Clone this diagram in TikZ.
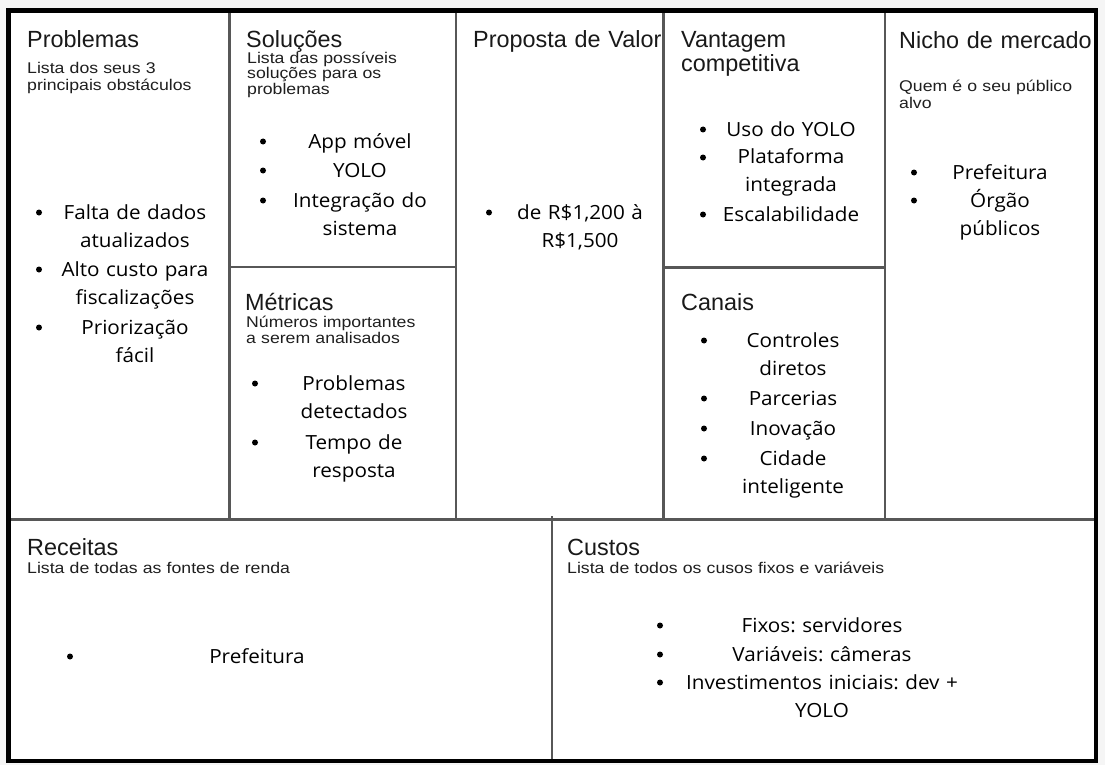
\documentclass[tikz,border=0pt]{standalone}
\usepackage{fontspec}
\setmainfont[FakeStretch=1.06]{Open Sans}
\newfontfamily\headfont{Liberation Sans}
\newfontfamily\notefont[FakeStretch=1.14]{Liberation Sans}
\usetikzlibrary{positioning}
\frenchspacing

\tikzset{
  frame/.style={line width=4.5pt, black},
  divider/.style={line width=2.2pt, black!66},
  heading/.style={anchor=base west, inner sep=0pt, text=black!90, align=left, text width=215pt,
    font=\headfont\fontsize{23.4}{24}\selectfont},
  hint/.style={anchor=base west, inner sep=0pt, text=black!88, align=left, text width=360pt,
    font=\notefont\fontsize{15.5}{16.5}\selectfont},
  entry/.style={anchor=base, inner sep=0pt, align=center, text width=170pt,
    font=\fontsize{19.5}{28}\selectfont},
  dot/.style={circle, fill=black, inner sep=0pt, minimum size=6pt, yshift=6.5pt}
}

\begin{document}
\begin{tikzpicture}[x=1pt, y=-1pt]
\useasboundingbox (0,0) rectangle (1105,765);
\fill[black!4] (0,0) rectangle (1105,765);
\fill[white] (8.5,10.5) rectangle (1096,761);

% Grid of the canvas
\draw[divider] (8.5,519.5) -- (1096,519.5);
\foreach \x in {229.5, 456, 663.5, 885} {
    \draw[divider] (\x,10.5) -- (\x,519.5);
}
\draw[divider] (229.5,267) -- (456,267);
\draw[divider] (663.5,267.5) -- (885,267.5);
\draw[divider] (552,516) -- (552,761);
\draw[frame] (8.5,10.5) rectangle (1096,761);

% Headings and hints
\node[heading] (probHead) at (27,48) {Problemas};
\node[hint] (probHint) at (27,74) {Lista dos seus 3\\principais obstáculos};
\node[heading] (soluHead) at (246,48) {Soluções};
\node[hint, font=\notefont\fontsize{15.5}{14.5}\selectfont] (soluHint) at (247,64) {Lista das possíveis\\soluções para os\\problemas};
\node[heading] (metrHead) at (245,310) {Métricas};
\node[hint] (metrHint) at (246,327) {Números importantes\\a serem analisados};
\node[heading] (propHead) at (473,48) {Proposta de Valor};
\node[heading] (vantHead) at (681,48) {Vantagem\\competitiva};
\node[heading] (canaHead) at (681,310) {Canais};
\node[heading] (nichHead) at (899,49) {Nicho de mercado};
\node[hint] (nichHint) at (899,92) {Quem é o seu público\\alvo};
\node[heading] (receHead) at (27,555) {Receitas};
\node[hint] (receHint) at (27,573) {Lista de todas as fontes de renda};
\node[heading] (custHead) at (567,555) {Custos};
\node[hint] (custHint) at (567,573) {Lista de todos os cusos fixos e variáveis};

% Bullet lists
\foreach \yb/\txt [count=\k] in {219/{Falta de dados\\atualizados}, 276/{Alto custo para\\fiscalizações}, 334/{Priorização\\fácil}} {
    \node[dot] (probDot\k) at (39,\yb) {};
    \node[entry, text width=160pt] (probItem\k) at (135,\yb) {\txt};
}
\foreach \yb/\txt [count=\k] in {148/{App móvel}, 177/{YOLO}, 207/{Integração do\\sistema}} {
    \node[dot] (soluDot\k) at (263,\yb) {};
    \node[entry, text width=160pt] (soluItem\k) at (360,\yb) {\txt};
}
\foreach \yb/\txt [count=\k] in {390/{Problemas\\detectados}, 449/{Tempo de\\resposta}} {
    \node[dot] (metrDot\k) at (255,\yb) {};
    \node[entry, text width=160pt] (metrItem\k) at (354,\yb) {\txt};
}
\foreach \yb/\txt [count=\k] in {219/{de R\$1,200 à\\R\$1,500}} {
    \node[dot] (propDot\k) at (489,\yb) {};
    \node[entry, text width=160pt] (propItem\k) at (580,\yb) {\txt};
}
\foreach \yb/\txt [count=\k] in {136/{Uso do YOLO}, 164/{Plataforma\\integrada}, 221/{Escalabilidade}} {
    \node[dot] (vantDot\k) at (703,\yb) {};
    \node[entry] (vantItem\k) at (791,\yb) {\txt};
}
\foreach \yb/\txt [count=\k] in {347/{Controles\\diretos}, 405/{Parcerias}, 435/{Inovação}, 465/{Cidade\\inteligente}} {
    \node[dot] (canaDot\k) at (704,\yb) {};
    \node[entry] (canaItem\k) at (793,\yb) {\txt};
}
\foreach \yb/\txt [count=\k] in {179/{Prefeitura}, 207/{Órgão\\públicos}} {
    \node[dot] (nichDot\k) at (914,\yb) {};
    \node[entry] (nichItem\k) at (1000,\yb) {\txt};
}
\node[dot] (receDot1) at (70,663) {};
\node[entry] (receItem1) at (257,663) {Prefeitura};
\foreach \yb/\txt [count=\k] in {632/{Fixos: servidores}, 661/{Variáveis: câmeras}, 689/{Investimentos iniciais: dev +\\YOLO}} {
    \node[dot] (custDot\k) at (660,\yb) {};
    \node[entry, text width=330pt] (custItem\k) at (822,\yb) {\txt};
}
\end{tikzpicture}
\end{document}
